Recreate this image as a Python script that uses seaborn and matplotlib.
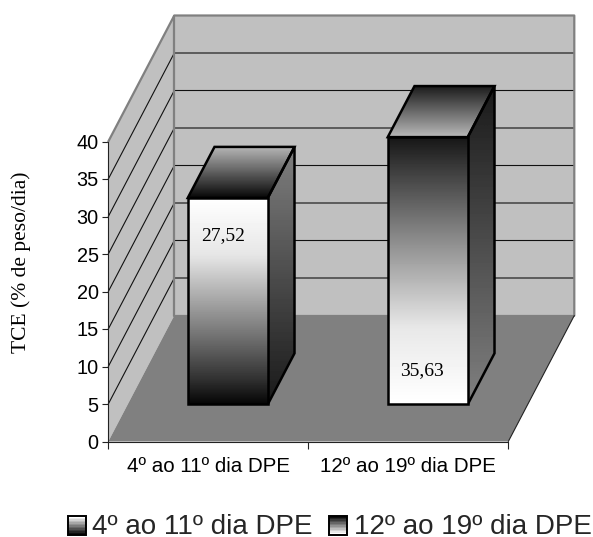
import numpy as np
import pandas as pd
import matplotlib
matplotlib.use('Agg')
import matplotlib.pyplot as plt
from matplotlib.legend_handler import HandlerBase
from matplotlib.patches import Polygon, Rectangle
import seaborn as sns

# values
periodos = ['4º ao 11º dia DPE', '12º ao 19º dia DPE']
tce = [27.52, 35.63]
rotulos = ['27,52', '35,63']
y_ticks = [0, 5, 10, 15, 20, 25, 30, 35, 40]

# fake 3d: a point at depth d moves by d*DX categories and d*DY value units
DX = 0.33
DY = 16.8
D_FRONT = 0.295
D_BAR = 0.405
LEFT, RIGHT = -0.5, 1.5
TOP = 40

W, H = 593, 537
sns.set_theme(style='white')
plt.rcParams['font.family'] = ['Liberation Sans', 'DejaVu Sans']

fig = plt.figure(figsize=(W / 100, H / 100), dpi=100, facecolor='white')
ax = fig.add_axes([108.3 / W, 1 - 441.5 / H, 400 / W, 300 / H])

df = pd.DataFrame({'periodo': periodos, 'tce': tce})
sns.barplot(data=df, x='periodo', y='tce', width=0.4, color='white', saturation=1,
            edgecolor='black', linewidth=1.8, zorder=6, ax=ax)
bars = list(ax.patches)


def proj(x, v, d):
    return (x + d * DX, v + d * DY)


def face(points, color, z):
    p = Polygon(points, closed=True, facecolor=color, edgecolor='none', zorder=z,
                clip_on=False, transform=ax.transData)
    ax.add_patch(p)
    return p


def fill_ramp(ramp, box, clip, z):
    # vertical grey ramp, clipped to a face that may stick out of the axes
    im = ax.imshow(ramp.reshape(-1, 1), extent=box, origin='upper', aspect='auto', cmap='gray',
                   vmin=0, vmax=1, interpolation='bilinear', zorder=z)
    im.set_clip_box(fig.bbox)
    im.set_clip_path(clip.get_path(), clip.get_transform())
    return im


def gradient(points, top_gray, bottom_gray, z):
    p = Polygon(points, closed=True, facecolor='none', edgecolor='black', linewidth=1.8,
                zorder=z + 1, clip_on=False, transform=ax.transData, joinstyle='miter')
    ax.add_patch(p)
    xs = [q[0] for q in points]
    ys = [q[1] for q in points]
    fill_ramp(np.linspace(top_gray, bottom_gray, 64), (min(xs), max(xs), min(ys), max(ys)), p, z)


# walls and floor
face([proj(LEFT, 0, 1), proj(RIGHT, 0, 1), proj(RIGHT, TOP, 1), proj(LEFT, TOP, 1)], '#c0c0c0', 1)
face([proj(LEFT, 0, 0), proj(LEFT, 0, 1), proj(LEFT, TOP, 1), proj(LEFT, TOP, 0)], '#c0c0c0', 1)
face([proj(LEFT, 0, 0), proj(RIGHT, 0, 0), proj(RIGHT, 0, 1), proj(LEFT, 0, 1)], '#808080', 2)

# gridlines on both walls
for v in y_ticks[1:-1]:
    ax.plot(*zip(proj(LEFT, v, 0), proj(LEFT, v, 1), proj(RIGHT, v, 1)), color='#111111',
            lw=0.8, zorder=3, clip_on=False)

# wall borders
ax.plot(*zip(proj(LEFT, TOP, 0), proj(LEFT, TOP, 1), proj(RIGHT, TOP, 1), proj(RIGHT, 0, 1)),
        color='#808080', lw=1.6, zorder=3, clip_on=False)
ax.plot(*zip(proj(LEFT, TOP, 1), proj(LEFT, 0, 1), proj(RIGHT, 0, 1)),
        color='#808080', lw=1.6, zorder=3, clip_on=False)
ax.plot(*zip(proj(RIGHT, 0, 0), proj(RIGHT, 0, 1)), color='#222222', lw=0.8, zorder=3,
        clip_on=False)

# front ramp shapes, dark end first
pos = np.linspace(0, 1, 64)
rampa_1 = np.interp(pos, [0, 0.12, 0.37, 0.72, 1], [0.03, 0.20, 0.50, 0.90, 1.0])
rampa_2 = np.interp(pos, [0, 0.12, 0.37, 0.72, 1], [0.09, 0.24, 0.53, 0.91, 1.0])

# bars: front from seaborn, side and top added behind it
rampas = [
    {'front': rampa_1[::-1], 'side': (0.50, 0.10), 'top': (0.72, 0.03)},
    {'front': rampa_2, 'side': (0.10, 0.50), 'top': (0.10, 0.72)},
]
for bar, valor, r in zip(bars, tce, rampas):
    x0 = bar.get_x()
    x1 = x0 + bar.get_width()
    bar.set_facecolor('none')
    bar.set_clip_on(False)
    bar.set_joinstyle('miter')
    bar.set_x(x0 + D_FRONT * DX)
    bar.set_y(D_FRONT * DY)

    d0, d1 = D_FRONT, D_FRONT + D_BAR
    gradient([proj(x1, 0, d0), proj(x1, 0, d1), proj(x1, valor, d1), proj(x1, valor, d0)],
             *r['side'], 4)
    gradient([proj(x0, valor, d0), proj(x1, valor, d0), proj(x1, valor, d1), proj(x0, valor, d1)],
             *r['top'], 4)

    fx0, fy0 = bar.get_x(), bar.get_y()
    fx1, fy1 = fx0 + bar.get_width(), fy0 + bar.get_height()
    frente = Polygon([(fx0, fy0), (fx1, fy0), (fx1, fy1), (fx0, fy1)], closed=True,
                     transform=ax.transData)
    fill_ramp(r['front'], (fx0, fx1, fy0, fy1), frente, 5)

# value labels
ax.text(bars[0].get_x() + bars[0].get_width() / 2 - 0.022, bars[0].get_y() + bars[0].get_height() - 5,
        rotulos[0], family='Liberation Serif', fontsize=14, color='black',
        ha='center', va='center', zorder=8)
ax.text(bars[1].get_x() + bars[1].get_width() / 2 - 0.03, bars[1].get_y() + 4.55,
        rotulos[1], family='Liberation Serif', fontsize=14, color='black',
        ha='center', va='center', zorder=8)

# axes
ax.set_xlim(LEFT, RIGHT)
ax.set_ylim(0, TOP)
ax.set_yticks(y_ticks)
ax.tick_params(axis='y', length=4.5, width=0.8, color='#222222', labelsize=14.3, pad=2.5,
               left=True, labelcolor='black')
ax.set_xticks([LEFT, 0.5, RIGHT])
ax.set_xticklabels([])
ax.set_xticks([0, 1], minor=True)
ax.set_xticklabels(periodos, minor=True, fontsize=14.8)
ax.tick_params(axis='x', which='major', length=5, width=0.8, color='#222222', bottom=True)
ax.tick_params(axis='x', which='minor', length=0, pad=11.2, labelcolor='black')
ax.set_xlabel('')
ax.set_ylabel('')
for s in ['top', 'right']:
    ax.spines[s].set_visible(False)
for s in ['left', 'bottom']:
    ax.spines[s].set_color('#222222')
    ax.spines[s].set_linewidth(0.8)
    ax.spines[s].set_zorder(7)
ax.patch.set_visible(False)

fig.text(21 / W, 1 - 262 / H, 'TCE (% de peso/dia)', family='Liberation Serif', fontsize=15.5,
         rotation=90, ha='center', va='center', color='black')


class HandlerRampa(HandlerBase):
    def __init__(self, de, ate):
        super().__init__()
        self.de, self.ate = de, ate

    def create_artists(self, legend, orig_handle, xdescent, ydescent, width, height, fontsize, trans):
        side = min(width, height)
        tiras = []
        n = 12
        for i, g in enumerate(np.linspace(self.de, self.ate, n)):
            tiras.append(Rectangle((0, side * (1 - (i + 1) / n)), side, side / n,
                                   facecolor=str(g), edgecolor='none', transform=trans))
        tiras.append(Rectangle((0, 0), side, side, facecolor='none', edgecolor='black',
                               linewidth=1.4, transform=trans))
        return tiras


h1 = Rectangle((0, 0), 1, 1)
h2 = Rectangle((0, 0), 1, 1)
fig.legend([h1, h2], periodos, ncol=2, frameon=False, fontsize=20,
           loc='center', bbox_to_anchor=(329.5 / W, 1 - 527.5 / H), borderpad=0, columnspacing=0.6,
           handlelength=0.66, handleheight=0.66, handletextpad=0.22,
           handler_map={h1: HandlerRampa(1.0, 0.05), h2: HandlerRampa(0.05, 1.0)})

fig.savefig('out.png', dpi=100, facecolor='white')
plt.close(fig)
